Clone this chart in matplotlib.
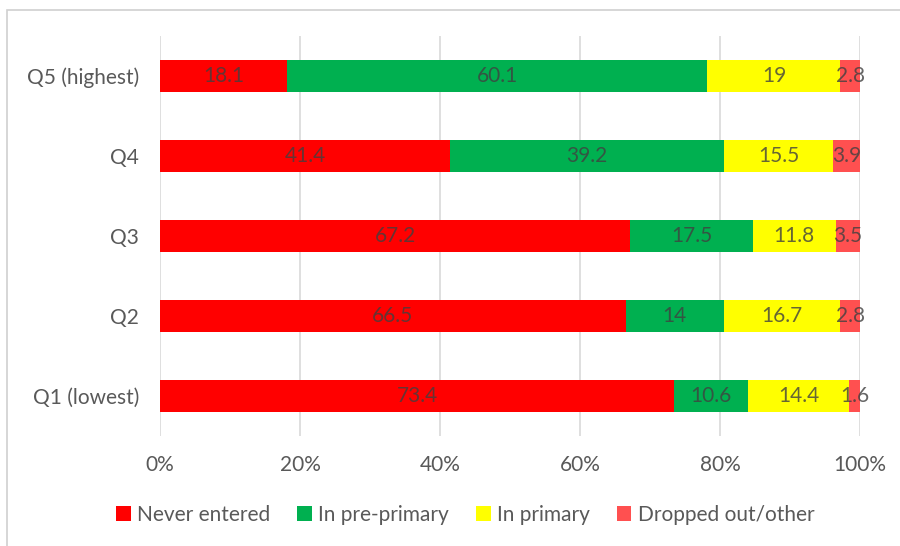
import matplotlib.pyplot as plt
from matplotlib.patches import Rectangle

plt.rcParams['font.family'] = ['Lato', 'DejaVu Sans']

quintiles = ['Q1 (lowest)', 'Q2', 'Q3', 'Q4', 'Q5 (highest)']
series = ['Never entered', 'In pre-primary', 'In primary', 'Dropped out/other']
never_entered = [73.4, 66.5, 67.2, 41.4, 18.1]
pre_primary = [10.6, 14, 17.5, 39.2, 60.1]
primary = [14.4, 16.7, 11.8, 15.5, 19]
dropped_out = [1.6, 2.8, 3.5, 3.9, 2.8]
colors = ['#FF0000', '#00B050', '#FFFF00', '#FF5050']

fig = plt.figure(figsize=(9, 5.46), dpi=100)
ax = fig.add_axes([0.178, 0.2015, 0.7776, 0.7325])

# thin grey frame around the chart area
fig.patches.append(Rectangle((0.008, -0.01), 1.0, 0.992, transform=fig.transFigure,
                             fill=False, edgecolor='#d0d0d0', linewidth=1.2))

y = range(len(quintiles))
left = [0.0] * len(quintiles)
for name, vals, c in zip(series, [never_entered, pre_primary, primary, dropped_out], colors):
    ax.barh(y, vals, left=left, height=0.4, color=c, label=name, zorder=3)
    for i, v in enumerate(vals):
        ax.text(left[i] + v / 2, i, f'{v:g}', ha='center', va='center',
                fontsize=15, color='#404040', alpha=0.8, zorder=4)
    left = [l + v for l, v in zip(left, vals)]

ax.set_xlim(0, 100)
ax.set_ylim(-0.5, 4.5)
ax.set_yticks(list(y))
ax.set_yticklabels(quintiles)
ax.set_xticks(range(0, 101, 20))
ax.set_xticklabels([f'{t}%' for t in range(0, 101, 20)])
ax.tick_params(axis='both', length=0, labelsize=15, colors='#595959')
ax.tick_params(axis='x', pad=14)
ax.tick_params(axis='y', pad=15)
ax.grid(axis='x', color='#d9d9d9', linewidth=1.2, zorder=0)
for s in ax.spines.values():
    s.set_visible(False)

fig.legend(loc='center', bbox_to_anchor=(0.517, 0.057), ncol=4, frameon=False,
           fontsize=15, handlelength=0.7, handleheight=0.7, handletextpad=0.3,
           columnspacing=1.3, labelcolor='#595959')

fig.savefig('out.png', dpi=100)
